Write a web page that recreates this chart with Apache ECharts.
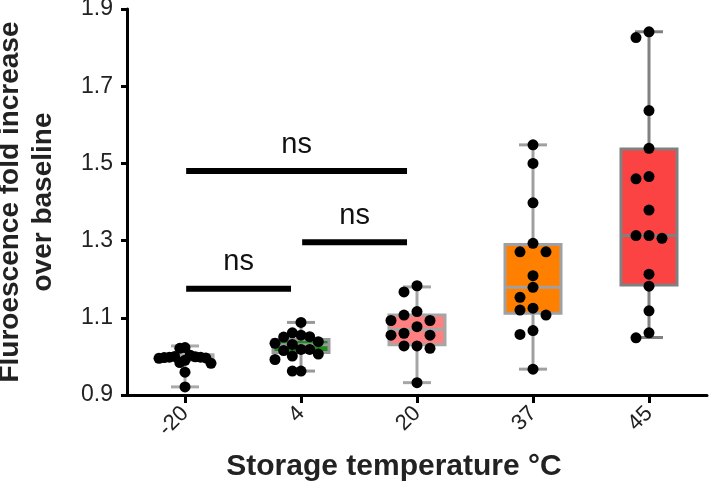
<!DOCTYPE html>
<html>
<head>
<meta charset="utf-8">
<script src="https://cdn.jsdelivr.net/npm/echarts@6/dist/echarts.min.js"></script>
<style>
html,body{margin:0;padding:0;background:#fff;}
#chart{width:709px;height:495px;}
</style>
</head>
<body>
<div id="chart"></div>
<script>
// ---- data ----
const categories = ['-20', '4', '20', '37', '45'];

const pointsM20 = [1.023, 1.021, 1.003, 1.000, 0.999, 0.998, 0.998, 0.997, 0.996, 0.995, 0.990, 0.984, 0.982, 0.959, 0.921];
const points4   = [1.088, 1.061, 1.055, 1.051, 1.050, 1.038, 1.034, 1.031, 1.018, 1.018, 1.015, 1.006, 1.001, 0.992, 0.962, 0.962];
const points20  = [1.183, 1.167, 1.116, 1.107, 1.093, 1.093, 1.077, 1.060, 1.055, 1.055, 1.027, 1.027, 1.021, 0.932];
const points37  = [1.548, 1.500, 1.398, 1.293, 1.271, 1.271, 1.209, 1.179, 1.153, 1.125, 1.120, 1.107, 1.067, 1.057, 0.967];
const points45  = [1.841, 1.826, 1.637, 1.539, 1.466, 1.460, 1.379, 1.313, 1.313, 1.306, 1.213, 1.182, 1.118, 1.061, 1.048];

const whiskerLow  = [0.921, 0.962, 0.932, 0.967, 1.049];
const boxQ1       = [0.990, 1.010, 1.030, 1.112, 1.185];
const boxMedian   = [0.998, 1.030, 1.070, 1.179, 1.313];
const boxQ3       = [1.004, 1.044, 1.107, 1.290, 1.537];
const whiskerHigh = [1.027, 1.088, 1.180, 1.548, 1.841];

// significance comparisons: [group a, group b, bar level]
const sigPairs = [[0, 2, 1.480], [1, 2, 1.296], [0, 1, 1.175]];
const sigLabels = ['ns', 'ns', 'ns'];

const yMin = 0.9, yMax = 1.9, yStep = 0.2;

// ---- styles ----
const boxFills = ['#d8d8d8', '#1e8c1e', '#ff8080', '#ff8000', '#fb4343'];
const boxBorders = ['#aaaaaa', '#999999', '#a6a6a6', '#a0a0a0', '#808080'];

const grid = {left: 127, right: 2, top: 9, bottom: 100, containLabel: false, outerBoundsMode: 'none'};
const W = 709, H = 495;
const pxPerCat = (W - grid.left - grid.right) / categories.length;
const pxPerY = (H - grid.top - grid.bottom) / (yMax - yMin);

// simple beeswarm: place each dot at the nearest free column, then compress wide rows
function swarm(vals, idx) {
  const dot = 11, step = 13, maxHalf = 26;
  const placed = [];
  const order = vals.map((v, k) => k).sort((a, b) => vals[b] - vals[a]);
  order.forEach(k => {
    const yp = vals[k] * pxPerY;
    let chosen = 0;
    for (let n = 0; n < 20; n++) {
      const cands = n === 0 ? [0] : [-n * step, n * step];
      let ok = null;
      for (const c of cands) {
        if (placed.every(p => Math.hypot(p[0] - c, p[1] - yp) >= dot)) { ok = c; break; }
      }
      if (ok !== null) { chosen = ok; break; }
    }
    placed.push([chosen, yp, vals[k]]);
  });
  const maxOff = Math.max(...placed.map(p => Math.abs(p[0])));
  const scale = maxOff > maxHalf ? maxHalf / maxOff : 1;
  return placed.map(p => [idx + (p[0] * scale) / pxPerCat, p[2]]);
}

const allPoints = [pointsM20, points4, points20, points37, points45];
const scatterData = [];
allPoints.forEach((arr, i) => swarm(arr, i).forEach(p => scatterData.push(p)));

const boxData = categories.map((c, i) => [i, whiskerLow[i], boxQ1[i], boxMedian[i], boxQ3[i], whiskerHigh[i]]);
const sigData = sigPairs.map(p => [p[0] + 0.01, p[1] - 0.086, p[2]]);

const chart = echarts.init(document.getElementById('chart'), null, {renderer: 'canvas'});
const fontFam = '"Liberation Sans", Arial, Helvetica, sans-serif';

chart.setOption({
  animation: false,
  backgroundColor: '#ffffff',
  grid: grid,
  xAxis: [
    {
      type: 'category',
      data: categories,
      boundaryGap: true,
      axisLine: {show: true, onZero: false, lineStyle: {color: '#000', width: 3}},
      axisTick: {show: true, alignWithLabel: true, length: 8, lineStyle: {color: '#000', width: 3}},
      axisLabel: {rotate: 45, fontSize: 22, color: '#222', fontFamily: fontFam, margin: 15},
      splitLine: {show: false},
      name: 'Storage temperature \u00B0C',
      nameLocation: 'middle',
      nameGap: 57,
      nameTextStyle: {fontSize: 30, fontWeight: 'bold', color: '#222', fontFamily: fontFam, padding: [0, 46, 0, 0]}
    },
    {
      type: 'value',
      min: -0.5, max: 4.5,
      show: false,
      axisLine: {onZero: false}
    }
  ],
  yAxis: {
    type: 'value',
    min: yMin, max: yMax, interval: yStep,
    axisLine: {show: true, onZero: false, lineStyle: {color: '#000', width: 3}},
    axisTick: {show: true, length: 6, lineStyle: {color: '#000', width: 3}},
    axisLabel: {fontSize: 23, color: '#222', fontFamily: fontFam, margin: 14, formatter: v => v.toFixed(1)},
    splitLine: {show: false},
    name: 'Fluroescence fold increase\nover baseline',
    nameLocation: 'middle',
    nameGap: 67,
    nameTextStyle: {fontSize: 28, fontWeight: 'bold', color: '#222', fontFamily: fontFam, lineHeight: 33}
  },
  series: [
    {
      type: 'custom',
      xAxisIndex: 0,
      z: 2,
      data: boxData,
      renderItem: function (params, api) {
        const i = api.value(0);
        const lo = api.coord([i, api.value(1)]);
        const q1 = api.coord([i, api.value(2)]);
        const md = api.coord([i, api.value(3)]);
        const q3 = api.coord([i, api.value(4)]);
        const hi = api.coord([i, api.value(5)]);
        const x = lo[0];
        const hw = 28, cw = 14;
        const stroke = boxBorders[i];
        const ls = {stroke: stroke, lineWidth: 3};
        return {
          type: 'group',
          children: [
            {type: 'line', shape: {x1: x, y1: hi[1], x2: x, y2: lo[1]}, style: ls},
            {type: 'line', shape: {x1: x - cw, y1: hi[1], x2: x + cw, y2: hi[1]}, style: ls},
            {type: 'line', shape: {x1: x - cw, y1: lo[1], x2: x + cw, y2: lo[1]}, style: ls},
            {type: 'rect', shape: {x: x - hw, y: q3[1], width: 2 * hw, height: q1[1] - q3[1]},
              style: {fill: boxFills[i], stroke: stroke, lineWidth: 3}},
            {type: 'line', shape: {x1: x - hw, y1: md[1], x2: x + hw, y2: md[1]}, style: ls}
          ]
        };
      }
    },
    {
      type: 'scatter',
      xAxisIndex: 1,
      z: 5,
      symbol: 'circle',
      symbolSize: 11,
      itemStyle: {color: '#000', opacity: 1},
      data: scatterData
    },
    {
      type: 'custom',
      xAxisIndex: 1,
      z: 4,
      data: sigData,
      renderItem: function (params, api) {
        const a = api.coord([api.value(0), api.value(2)]);
        const b = api.coord([api.value(1), api.value(2)]);
        return {
          type: 'group',
          children: [
            {type: 'line', shape: {x1: a[0], y1: a[1], x2: b[0], y2: b[1]}, style: {stroke: '#000', lineWidth: 6}},
            {type: 'text', style: {x: (a[0] + b[0]) / 2, y: a[1] - 12, text: sigLabels[params.dataIndex],
              fill: '#111', font: '29px ' + fontFam, align: 'center', verticalAlign: 'bottom'}}
          ]
        };
      }
    }
  ]
});
</script>
</body>
</html>
